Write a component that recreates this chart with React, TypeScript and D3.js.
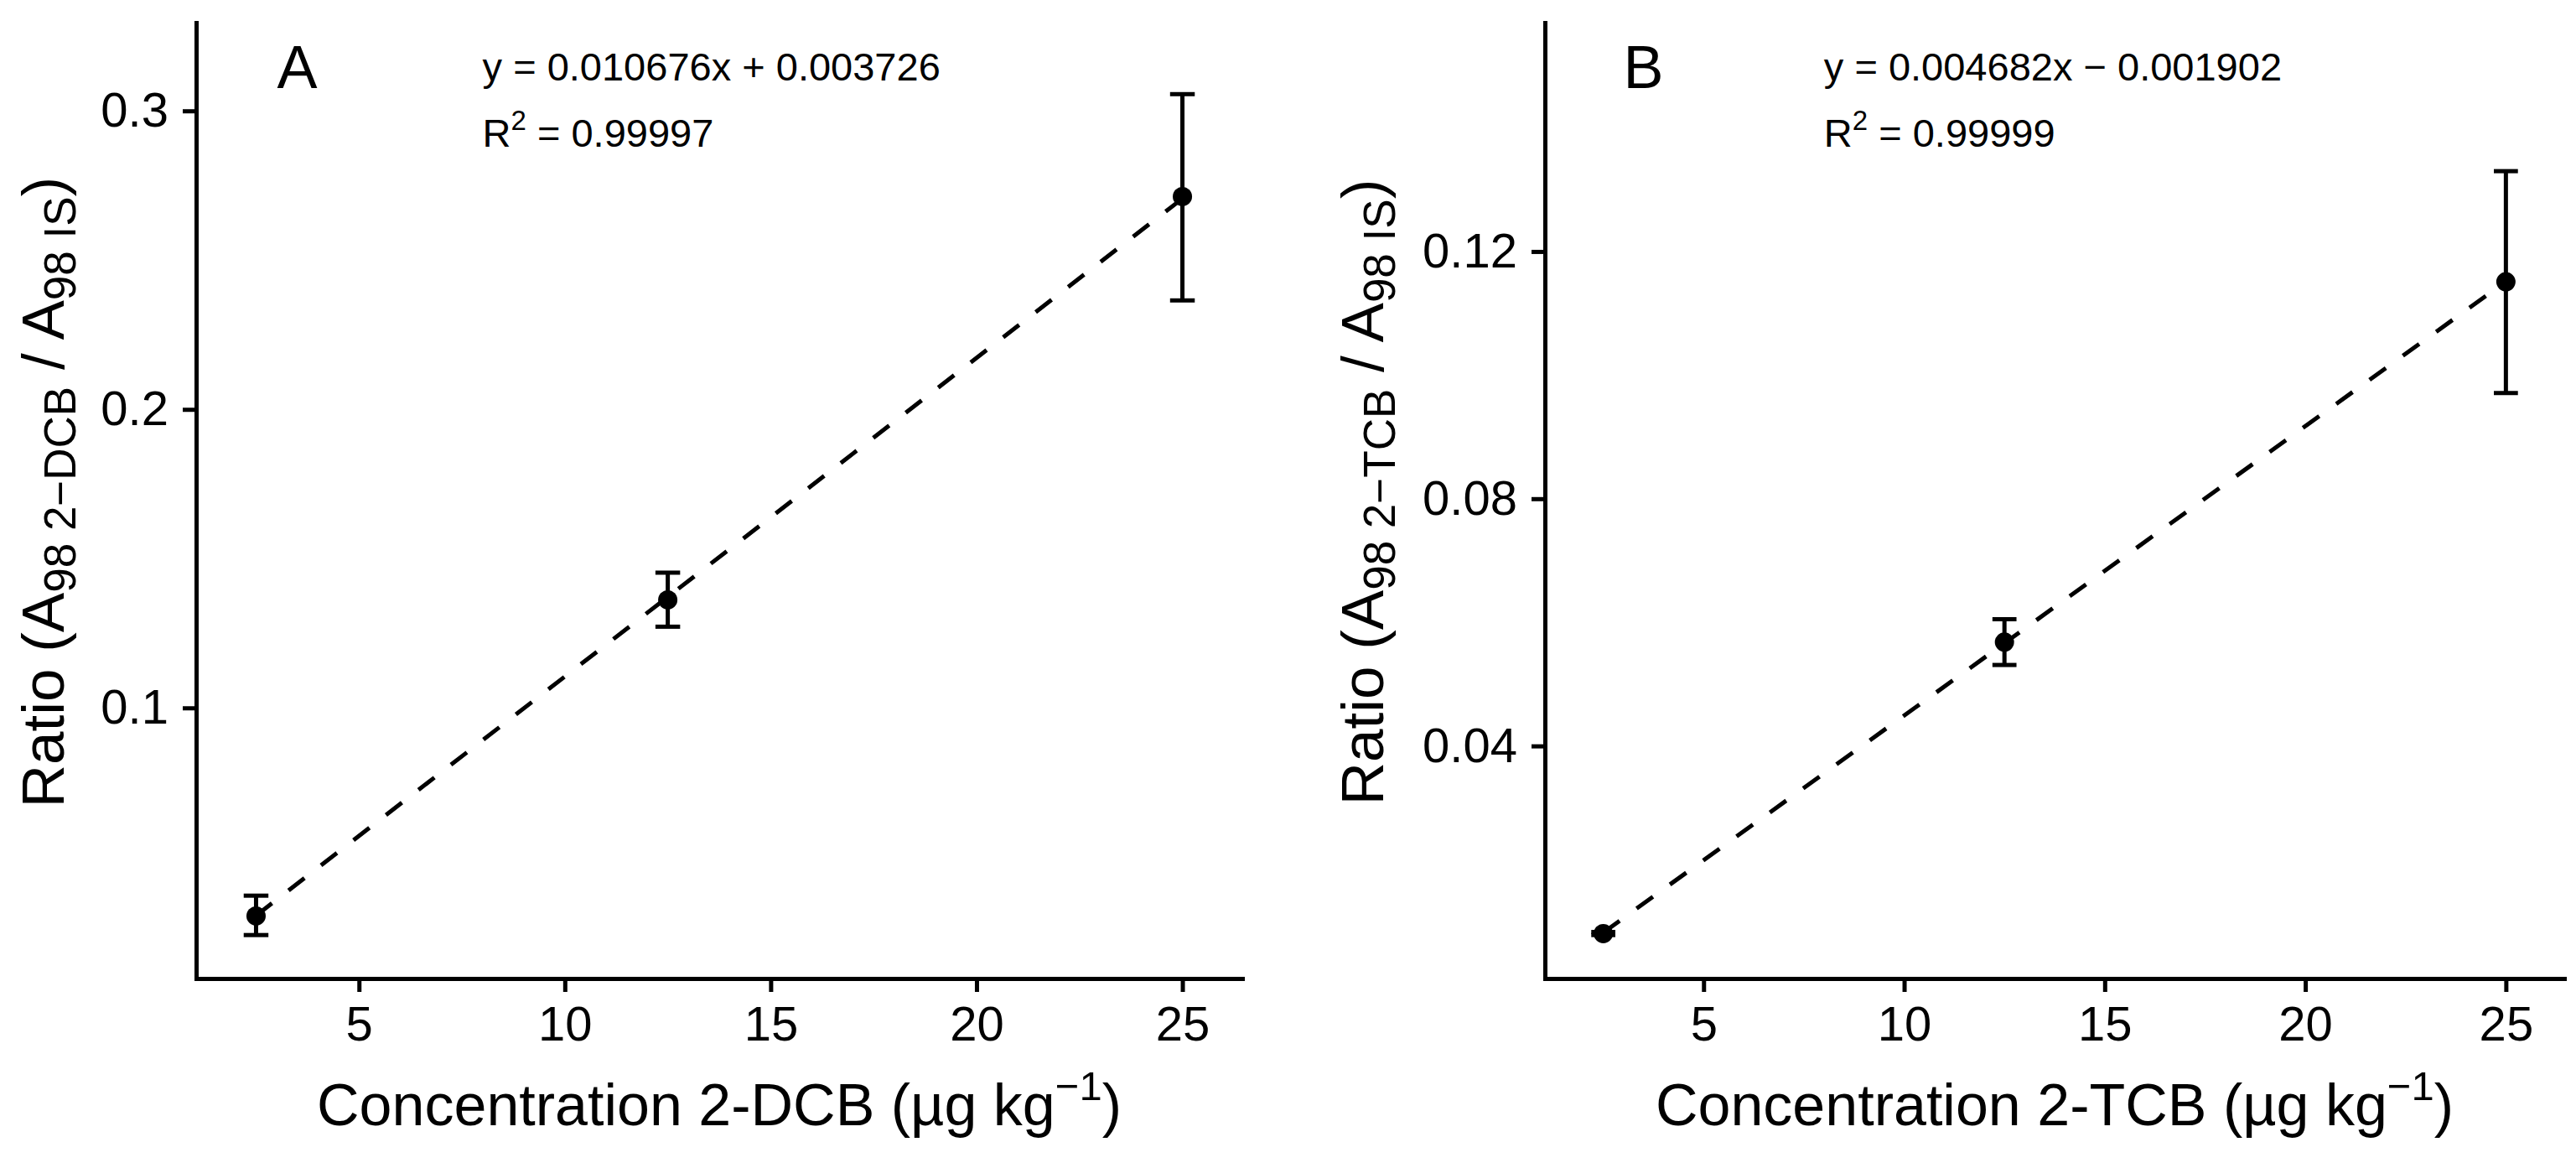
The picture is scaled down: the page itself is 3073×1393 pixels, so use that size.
import { useEffect, useRef } from 'react'
import * as d3 from 'd3'

// concentrations (µg/kg) shared by both panels
const concentrations = [2.5, 12.5, 25]

// panel A: 2-DCB ratio, mean and error bar ends
const dcbRatio = [0.0303, 0.1362, 0.2713]
const dcbLow = [0.0239, 0.1272, 0.2365]
const dcbHigh = [0.0371, 0.1453, 0.3056]

// panel B: 2-TCB ratio
const tcbRatio = [0.00964, 0.0568, 0.1151]
const tcbLow = [0.0094, 0.0531, 0.0971]
const tcbHigh = [0.0099, 0.0605, 0.133]

const xTicks = [5, 10, 15, 20, 25]
const dcbTicks = [0.1, 0.2, 0.3]
const tcbTicks = [0.04, 0.08, 0.12]

// fitted lines: slope, intercept
const slopes = [0.010676, 0.004682]
const intercepts = [0.003726, -0.001902]
const equations = ['y = 0.010676x + 0.003726', 'y = 0.004682x \u2212 0.001902']
const r2Values = ['0.99997', '0.99999']
const panelLetters = ['A', 'B']
const letterY = [0.315, 0.15]
const compounds = ['DCB', 'TCB']

const FONT = '"Liberation Sans", Arial, sans-serif'
const W = 3073
const H = 1393

export default function CalibrationCurves() {
  const ref = useRef<SVGSVGElement>(null)

  useEffect(() => {
    if (!ref.current) return
    const svg = d3.select(ref.current)
    svg.selectAll('*').remove()

    const top = 27
    const bottom = 1167
    const panels = [
      { left: 234, right: 1482, titleX: 76, ratio: dcbRatio, low: dcbLow, high: dcbHigh, ticks: dcbTicks, fmt: d3.format('.1f') },
      { left: 1843, right: 3059, titleX: 1650, ratio: tcbRatio, low: tcbLow, high: tcbHigh, ticks: tcbTicks, fmt: d3.format('.2f') },
    ]
    const capWidth = 0.6

    panels.forEach((p, pi) => {
      // ggplot-like domains: data extent + 5% expansion
      const xMin = d3.min(concentrations)! - capWidth / 2
      const xMax = d3.max(concentrations)! + capWidth / 2
      const xPad = (xMax - xMin) * 0.05
      const x = d3.scaleLinear().domain([xMin - xPad, xMax + xPad]).range([p.left, p.right])

      const yMin = d3.min(p.low)!
      const yMax = Math.max(d3.max(p.high)!, letterY[pi])
      const yPad = (yMax - yMin) * 0.05
      const y = d3.scaleLinear().domain([yMin - yPad, yMax + yPad]).range([bottom, top])

      const g = svg.append('g')

      // x axis
      const xa = g.append('g')
        .attr('transform', `translate(0,${bottom})`)
        .call(d3.axisBottom(x).tickValues(xTicks).tickSize(16).tickSizeOuter(0).tickPadding(17))
      xa.select('.domain').attr('stroke', '#000').attr('stroke-width', 5).attr('stroke-linecap', 'square')
      xa.selectAll('.tick line').attr('stroke', '#000').attr('stroke-width', 5)
      xa.selectAll('.tick text').attr('fill', '#000').style('font-family', FONT).style('font-size', '58px')

      // y axis
      const ya = g.append('g')
        .attr('transform', `translate(${p.left},0)`)
        .call(d3.axisLeft(y).tickValues(p.ticks).tickFormat(d => p.fmt(d as number)).tickSize(16).tickSizeOuter(0).tickPadding(17))
      ya.select('.domain').attr('stroke', '#000').attr('stroke-width', 5).attr('stroke-linecap', 'square')
      ya.selectAll('.tick line').attr('stroke', '#000').attr('stroke-width', 5)
      ya.selectAll('.tick text').attr('fill', '#000').style('font-family', FONT).style('font-size', '58px')

      // x title
      const xt = g.append('text')
        .attr('x', (p.left + p.right) / 2)
        .attr('y', bottom + 175)
        .attr('text-anchor', 'middle')
        .style('font-family', FONT)
        .style('font-size', '70px')
      xt.append('tspan').text(`Concentration 2-${compounds[pi]} (\u00b5g kg`)
      xt.append('tspan').attr('dy', -30).style('font-size', '49px').text('\u22121')
      xt.append('tspan').attr('dy', 30).text(')')

      // y title
      const yt = g.append('text')
        .attr('transform', `translate(${p.titleX},${(top + bottom) / 2 - 10}) rotate(-90)`)
        .attr('text-anchor', 'middle')
        .style('font-family', FONT)
        .style('font-size', '71px')
      yt.append('tspan').text('Ratio (A')
      yt.append('tspan').attr('dy', 14).style('font-size', '53px').text(`98 2\u2212${compounds[pi]}`)
      yt.append('tspan').attr('dy', -14).text(' / A')
      yt.append('tspan').attr('dy', 14).style('font-size', '53px').text('98 IS')
      yt.append('tspan').attr('dy', -14).text(')')

      // fitted dashed line
      const xs = d3.extent(concentrations) as [number, number]
      const line = d3.line<number>().x(d => x(d)).y(d => y(slopes[pi] * d + intercepts[pi]))
      g.append('path')
        .attr('d', line(xs))
        .attr('fill', 'none')
        .attr('stroke', '#000')
        .attr('stroke-width', 5)
        .attr('stroke-dasharray', '24 25')

      // error bars + points
      concentrations.forEach((c, i) => {
        g.append('line')
          .attr('x1', x(c)).attr('x2', x(c))
          .attr('y1', y(p.low[i])).attr('y2', y(p.high[i]))
          .attr('stroke', '#000').attr('stroke-width', 5)
        ;[p.low[i], p.high[i]].forEach(v => {
          g.append('line')
            .attr('x1', x(c - capWidth / 2)).attr('x2', x(c + capWidth / 2))
            .attr('y1', y(v)).attr('y2', y(v))
            .attr('stroke', '#000').attr('stroke-width', 5)
        })
        g.append('circle')
          .attr('cx', x(c)).attr('cy', y(p.ratio[i]))
          .attr('r', 11.5)
          .attr('fill', '#000')
      })

      // panel letter
      g.append('text')
        .attr('x', x(3.5))
        .attr('y', y(letterY[pi]))
        .attr('dy', '0.36em')
        .attr('text-anchor', 'middle')
        .style('font-family', FONT)
        .style('font-size', '72px')
        .text(panelLetters[pi])

      // equation + R2
      const ly = y(letterY[pi])
      g.append('text')
        .attr('x', x(8))
        .attr('y', ly + 17)
        .style('font-family', FONT)
        .style('font-size', '47px')
        .text(equations[pi])
      const r2 = g.append('text')
        .attr('x', x(8))
        .attr('y', ly + 96)
        .style('font-family', FONT)
        .style('font-size', '47px')
      r2.append('tspan').text('R')
      r2.append('tspan').attr('dy', -20).style('font-size', '33px').text('2')
      r2.append('tspan').attr('dy', 20).text(' = ' + r2Values[pi])
    })

    return () => { svg.selectAll('*').remove() }
  }, [])

  return (
    <svg
      ref={ref}
      width={W}
      height={H}
      viewBox={`0 0 ${W} ${H}`}
      style={{ position: 'absolute', left: 0, top: 0, background: '#fff' }}
    />
  )
}
